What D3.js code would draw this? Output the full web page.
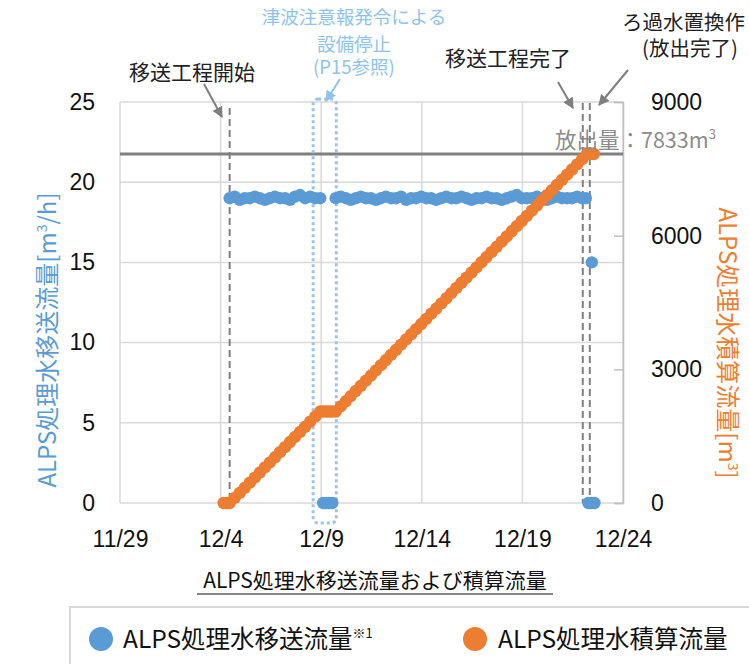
<!DOCTYPE html>
<html><head><meta charset="utf-8">
<script src="https://cdn.jsdelivr.net/npm/d3@7"></script>
<style>
html,body{margin:0;padding:0;background:#fff;}
svg{display:block;font-family:"Noto Sans CJK JP","Noto Sans",sans-serif;}
</style></head><body>
<svg id="c" width="749" height="664"></svg>
<script>
// ---- data (days since 11/29) ----
const xTickDays = [0, 5, 10, 15, 20, 25];
const xTickLabels = ["11/29", "12/4", "12/9", "12/14", "12/19", "12/24"];
const leftTicks = [0, 5, 10, 15, 20, 25];
const rightTicks = [0, 3000, 6000, 9000];

const transferDay = [5.45,5.7,5.95,6.2,6.45,6.7,6.95,7.2,7.45,7.7,7.95,8.2,8.45,8.7,8.95,9.2,9.45,9.7,9.95,
  10.1,10.25,10.4,10.55,
  10.72,10.97,11.22,11.47,11.72,11.97,12.22,12.47,12.72,12.97,13.22,13.47,13.72,13.97,14.22,14.47,14.72,14.97,15.22,15.47,
  15.72,15.97,16.22,16.47,16.72,16.97,17.22,17.47,17.72,17.97,18.22,18.47,18.72,18.97,19.22,19.47,19.72,19.97,20.22,20.47,
  20.72,20.97,21.22,21.47,21.72,21.97,22.22,22.47,22.72,22.97,23.15,
  23.28,23.45,23.42,23.58];
const transferRate = [19.0,19.1,18.9,19.0,19.0,19.1,19.0,18.9,19.0,19.1,19.0,19.0,18.9,19.1,19.2,19.0,19.1,19.0,19.0,
  0,0,0,0,
  19.0,19.1,19.0,18.9,19.0,19.1,19.0,19.0,18.9,19.0,19.1,19.0,19.0,19.1,18.9,19.0,19.0,19.1,19.0,19.0,
  18.9,19.0,19.1,19.0,19.0,19.1,19.0,18.9,19.0,19.0,19.1,19.0,19.0,18.9,19.0,19.1,19.2,19.0,19.0,19.0,
  19.1,19.0,18.9,19.0,19.1,19.0,19.0,19.0,19.1,19.0,19.0,
  0,15.0,0,0];

const cumDay = [5.15,5.3,5.45,5.7,5.95,6.2,6.45,6.7,6.95,7.2,7.45,7.7,7.95,8.2,8.45,8.7,8.95,9.2,9.45,9.7,9.95,
  10.1,10.25,10.4,10.55,
  10.72,10.97,11.22,11.47,11.72,11.97,12.22,12.47,12.72,12.97,13.22,13.47,13.72,13.97,14.22,14.47,14.72,14.97,15.22,15.47,
  15.72,15.97,16.22,16.47,16.72,16.97,17.22,17.47,17.72,17.97,18.22,18.47,18.72,18.97,19.22,19.47,19.72,19.97,20.22,20.47,
  20.72,20.97,21.22,21.47,21.72,21.97,22.22,22.47,22.72,22.97,23.22,
  23.35,23.55];
const cumVolume = [0,0,0,114,228,342,456,570,684,798,912,1026,1140,1254,1368,1482,1596,1710,1824,1938,2052,
  2052,2052,2052,2052,
  2052,2168,2283,2399,2514,2630,2746,2861,2977,3092,3208,3324,3439,3555,3670,3786,3902,4017,4133,4248,
  4364,4480,4595,4711,4826,4942,5058,5173,5289,5404,5520,5636,5751,5867,5982,6098,6214,6329,6445,6560,
  6676,6792,6907,7023,7138,7254,7370,7485,7601,7716,7833,
  7833,7833];

const releasedTotal = 7833;
const eventDays = [5.45, 23.0, 23.35];      // dashed markers
const stopPeriod = [9.6, 10.75];            // tsunami advisory stop

// ---- layout ----
const svg = d3.select("#c");
const blue = "#5b9bd5", orange = "#ed7d31", lightBlue = "#8fc3ec";
const x = d3.scaleLinear().domain([0, 25]).range([120, 623]);
const yL = d3.scaleLinear().domain([0, 25]).range([503, 102]);
const yR = d3.scaleLinear().domain([0, 9000]).range([503, 102]);

// gridlines
svg.append("g").selectAll("line").data(leftTicks).join("line")
  .attr("x1", x(0)).attr("x2", x(25)).attr("y1", d => yL(d)).attr("y2", d => yL(d))
  .attr("stroke", "#d9d9d9").attr("stroke-width", 1.5);
svg.append("g").selectAll("line").data(xTickDays).join("line")
  .attr("x1", d => x(d)).attr("x2", d => x(d)).attr("y1", yL(0)).attr("y2", yL(25))
  .attr("stroke", "#d9d9d9").attr("stroke-width", 1.5);

// right axis
const ra = svg.append("g").attr("transform", `translate(${x(25)},0)`)
  .call(d3.axisRight(yR).tickValues(rightTicks).tickSize(-9).tickPadding(28).tickFormat(d3.format("d")));
ra.select(".domain").attr("stroke", "#bfbfbf").attr("stroke-width", 1.5);
ra.selectAll(".tick line").attr("stroke", "#bfbfbf").attr("stroke-width", 1.5);
ra.selectAll("text").attr("font-size", 23).attr("fill", "#111").attr("font-family", "Liberation Sans, sans-serif");

// left axis labels
const la = svg.append("g").attr("transform", `translate(${x(0)},0)`)
  .call(d3.axisLeft(yL).tickValues(leftTicks).tickSize(0).tickPadding(25));
la.select(".domain").remove();
la.selectAll("text").attr("font-size", 23).attr("fill", "#111").attr("font-family", "Liberation Sans, sans-serif");

// bottom axis labels
const ba = svg.append("g").attr("transform", `translate(0,${yL(0)})`)
  .call(d3.axisBottom(x).tickValues(xTickDays).tickSize(0).tickPadding(28).tickFormat((d, i) => xTickLabels[i]));
ba.select(".domain").remove();
ba.selectAll("text").attr("font-size", 23).attr("fill", "#111").attr("font-family", "Liberation Sans, sans-serif");

// released total line
svg.append("line").attr("x1", x(0)).attr("x2", x(25))
  .attr("y1", yR(releasedTotal)).attr("y2", yR(releasedTotal))
  .attr("stroke", "#808080").attr("stroke-width", 3);

// event dashed lines
svg.append("g").selectAll("line").data(eventDays).join("line")
  .attr("x1", d => x(d)).attr("x2", d => x(d))
  .attr("y1", (d, i) => i === 0 ? yL(25) + 6 : yL(25) + 1).attr("y2", yL(0))
  .attr("stroke", "#7f7f7f").attr("stroke-width", 2).attr("stroke-dasharray", "7,4");

// stop period dotted rect
svg.append("rect")
  .attr("x", x(stopPeriod[0])).attr("width", x(stopPeriod[1]) - x(stopPeriod[0]))
  .attr("y", yL(25) - 3).attr("height", yL(0) - yL(25) + 23)
  .attr("rx", 5).attr("fill", "none")
  .attr("stroke", "#9dc3e6").attr("stroke-width", 3).attr("stroke-dasharray", "3,3");

// series
const tData = transferDay.map((d, i) => [d, transferRate[i]]);
const cData = cumDay.map((d, i) => [d, cumVolume[i]]);
svg.append("g").selectAll("circle").data(tData).join("circle")
  .attr("cx", d => x(d[0])).attr("cy", d => yL(d[1])).attr("r", 6.2).attr("fill", blue);
svg.append("g").selectAll("circle").data(cData).join("circle")
  .attr("cx", d => x(d[0])).attr("cy", d => yR(d[1])).attr("r", 6.2).attr("fill", orange);

// released text
const rt = svg.append("text").attr("x", 555).attr("y", 148).attr("font-size", 21.5).attr("fill", "#8c8c8c");
rt.append("tspan").text("放出量：7833m");
rt.append("tspan").attr("dy", -9).attr("font-size", 13).text("3");

// arrows
const defs = svg.append("defs");
function marker(id, col) {
  defs.append("marker").attr("id", id).attr("viewBox", "0 0 10 10").attr("refX", 9).attr("refY", 5)
    .attr("markerWidth", 5.5).attr("markerHeight", 5.5).attr("orient", "auto")
    .append("path").attr("d", "M0,0L10,5L0,10Z").attr("fill", col);
}
marker("ag", "#7f7f7f"); marker("ab", lightBlue);
function arrow(x1, y1, x2, y2, m, col) {
  svg.append("line").attr("x1", x1).attr("y1", y1).attr("x2", x2).attr("y2", y2)
    .attr("stroke", col).attr("stroke-width", 2).attr("marker-end", `url(#${m})`);
}
arrow(204, 84, 222, 117, "ag", "#7f7f7f");
arrow(558, 82, 573, 108, "ag", "#7f7f7f");
arrow(628, 70, 599, 105, "ag", "#7f7f7f");
arrow(340, 79, 326, 101, "ab", lightBlue);

// annotations
function txt(s, xx, yy, size, col, anchor) {
  svg.append("text").attr("x", xx).attr("y", yy).attr("font-size", size).attr("fill", col)
    .attr("text-anchor", anchor || "middle").text(s);
}
txt("移送工程開始", 192, 80, 21, "#222");
txt("津波注意報発令による", 354, 24, 18.5, lightBlue);
txt("設備停止", 354, 51, 18.5, lightBlue);
txt("(P15参照)", 354, 74, 18.5, lightBlue);
txt("移送工程完了", 508, 66, 21, "#222");
txt("ろ過水置換作", 622, 30, 20.5, "#222", "start");
txt("(放出完了)", 690, 56, 20.5, "#222");

// axis titles
const lt = svg.append("text").attr("transform", "translate(56,340) rotate(-90)")
  .attr("text-anchor", "middle").attr("font-size", 24).attr("fill", blue);
lt.append("tspan").text("ALPS処理水移送流量[m");
lt.append("tspan").attr("dy", -9).attr("font-size", 14).text("3");
lt.append("tspan").attr("dy", 9).text("/h]");
const rtt = svg.append("text").attr("transform", "translate(719,343) rotate(90)")
  .attr("text-anchor", "middle").attr("font-size", 24).attr("fill", orange);
rtt.append("tspan").text("ALPS処理水積算流量[m");
rtt.append("tspan").attr("dy", -9).attr("font-size", 14).text("3");
rtt.append("tspan").attr("dy", 9).text("]");

// subtitle
txt("ALPS処理水移送流量および積算流量", 375, 588, 21, "#111");
svg.append("line").attr("x1", 197).attr("x2", 553).attr("y1", 594).attr("y2", 594)
  .attr("stroke", "#111").attr("stroke-width", 1.2);

// legend
svg.append("rect").attr("x", 70).attr("y", 607).attr("width", 700).attr("height", 80)
  .attr("fill", "none").attr("stroke", "#d9d9d9").attr("stroke-width", 2);
svg.append("circle").attr("cx", 101).attr("cy", 639).attr("r", 12).attr("fill", blue);
const l1 = svg.append("text").attr("x", 123).attr("y", 648).attr("font-size", 24.5).attr("fill", "#111");
l1.append("tspan").text("ALPS処理水移送流量");
l1.append("tspan").attr("dy", -10).attr("font-size", 13).text("※1");
svg.append("circle").attr("cx", 475).attr("cy", 639).attr("r", 12).attr("fill", orange);
svg.append("text").attr("x", 498).attr("y", 648).attr("font-size", 24.5).attr("fill", "#111").text("ALPS処理水積算流量");
</script>
</body></html>
